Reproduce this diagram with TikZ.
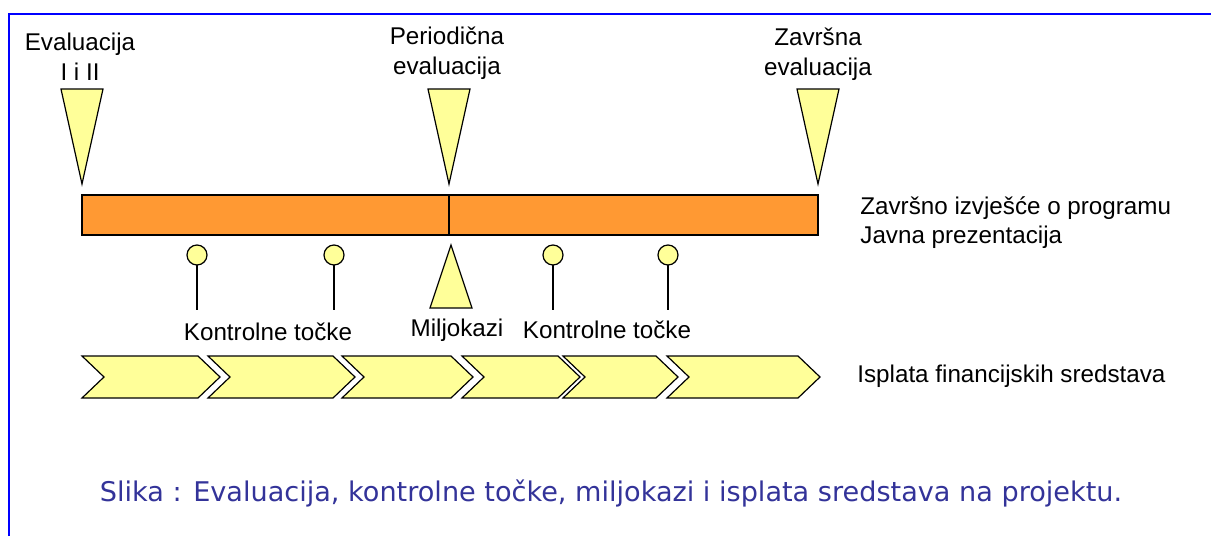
\documentclass[tikz,border=0pt]{standalone}
\usepackage{fontspec}
\setmainfont{Liberation Sans}
\newfontfamily\capfont{DejaVu Sans}
\definecolor{evalyellow}{HTML}{FFFF99}
\definecolor{evalorange}{HTML}{FF9933}
\definecolor{capblue}{HTML}{333399}
\tikzset{
  marker/.style={draw=black, fill=evalyellow, line width=0.6pt, line join=miter},
  lbl/.style={font=\fontsize{12.1}{15}\selectfont, align=center, inner sep=0pt},
  sidelbl/.style={lbl, anchor=west, align=left},
}
\begin{document}
\begin{tikzpicture}[x=0.5pt,y=-0.5pt]
\useasboundingbox (0,0) rectangle (1211,536);

\draw[blue, line width=1.2pt] (9,536) -- (9,14) -- (1211,14);

\node[lbl] (evalA) at (80,57) {Evaluacija\\I i II};
\node[lbl] (evalB) at (447,53) {Periodična\\evaluacija};
\node[lbl] (evalC) at (818,54) {Završna\\evaluacija};

\foreach \x in {82,449,818} {
        \filldraw[marker] (\x-21,89) -- (\x+21,89) -- (\x,184) -- cycle;
 }

\filldraw[fill=evalorange, draw=black, line width=0.6pt] (82,195) rectangle (818,235);
\draw[line width=1.2pt] (449,195) -- (449,235);

\foreach \x in {197,334,553,668} {
        \draw[line width=1pt] (\x,265) -- (\x,310);
        \filldraw[marker] (\x,255) circle (5pt);
 }

\filldraw[marker] (451,245) -- (472,308) -- (430,308) -- cycle;

\node[lbl] (kontA) at (268,332) {Kontrolne točke};
\node[lbl] (milj) at (457,330) {Miljokazi};
\node[lbl] (kontB) at (607,330) {Kontrolne točke};

\foreach \a/\b in {82/220,208/355,342/473,462/580,563/678,667/820} {
        \filldraw[marker] (\a,356) -- (\b-22,356) -- (\b,377) -- (\b-22,398) -- (\a,398) -- (\a+22,377) -- cycle;
 }

\node[sidelbl] (izvj) at (860,208) {Završno izvješće o programu};
\node[sidelbl] (prez) at (860,237) {Javna prezentacija};
\node[sidelbl] (ispl) at (857,376) {Isplata financijskih sredstava};

\node[font=\capfont\fontsize{13.55}{16}\selectfont, text=capblue, inner sep=0pt] (slika) at (611,493)
  {Slika : Evaluacija, kontrolne točke, miljokazi i isplata sredstava na projektu.};

\end{tikzpicture}
\end{document}
